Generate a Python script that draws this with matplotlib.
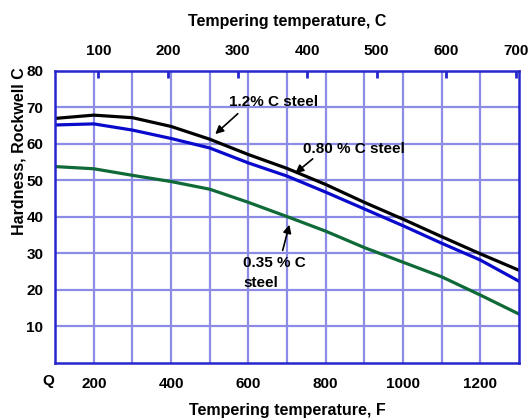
import matplotlib.pyplot as plt

plt.rcParams['font.family'] = ['Liberation Sans', 'DejaVu Sans']
plt.rcParams['font.weight'] = 'bold'

# temperatura (F) y dureza Rockwell C
temp_f = [100, 200, 300, 400, 500, 600, 700, 800, 900, 1000, 1100, 1200, 1300]
steel_120 = [67.0, 67.9, 67.2, 64.8, 61.3, 57.1, 53.3, 48.9, 44.0, 39.4, 34.6, 29.9, 25.4]
steel_080 = [65.2, 65.5, 63.8, 61.5, 58.9, 54.8, 51.2, 46.8, 42.2, 37.6, 32.8, 28.2, 22.4]
steel_035 = [53.8, 53.2, 51.4, 49.7, 47.6, 44.0, 40.1, 36.1, 31.6, 27.6, 23.6, 18.6, 13.4]

f_ticks = [200, 400, 600, 800, 1000, 1200]
c_ticks = [100, 200, 300, 400, 500, 600, 700]
y_ticks = [10, 20, 30, 40, 50, 60, 70, 80]

grid_col = '#8c8ce6'
spine_col = '#2626cc'

fig = plt.figure(figsize=(5.3, 4.2), dpi=100)
ax = fig.add_axes([0.104, 0.136, 0.875, 0.695])

ax.plot(temp_f, steel_120, color='black', lw=2.3)
ax.plot(temp_f, steel_080, color='#0a0acc', lw=2.3)
ax.plot(temp_f, steel_035, color='#0f6a38', lw=2.3)

ax.set_xlim(100, 1300)
ax.set_ylim(0, 80)

# rejilla
for x in range(200, 1300, 100):
    ax.axvline(x, color=grid_col, lw=1.6, zorder=0)
for y in range(10, 80, 10):
    ax.axhline(y, color=grid_col, lw=1.6, zorder=0)

for s in ax.spines.values():
    s.set_color(spine_col)
    s.set_linewidth(1.8)

ax.set_xticks(f_ticks)
ax.set_yticks(y_ticks)
ax.tick_params(length=0, labelsize=11, pad=8.5)
ax.tick_params(axis='x', pad=10)
ax.set_xlabel('Tempering temperature, F', fontsize=11.5, fontweight='bold', labelpad=9)
fig.text(0.035, 0.64, 'Hardness, Rockwell C', rotation=90, ha='center', va='center',
         fontsize=11.5, fontweight='bold')
fig.text(0.092, 0.093, 'Q', ha='center', va='center', fontsize=11, fontweight='bold')

# eje superior en Celsius
sec = ax.secondary_xaxis('top', functions=(lambda f: (f - 32) * 5 / 9,
                                           lambda c: c * 9 / 5 + 32))
sec.set_xticks(c_ticks)
sec.tick_params(direction='in', length=5, width=2, color=spine_col, labelsize=11, pad=9)
sec.spines['top'].set_visible(False)
sec.set_xlabel('Tempering temperature, C', fontsize=11.5, fontweight='bold', labelpad=13)

# anotaciones
arrow = dict(arrowstyle='-|>', color='black', lw=1.2, mutation_scale=12)
ax.text(550, 71.6, '1.2% C steel', fontsize=11, fontweight='bold', ha='left', va='center')
ax.annotate('', xy=(509, 62.2), xytext=(578, 68.8), arrowprops=arrow)
ax.text(741, 58.6, '0.80 % C steel', fontsize=11, fontweight='bold', ha='left', va='center')
ax.annotate('', xy=(716, 51.5), xytext=(772, 56.4), arrowprops=arrow)
ax.text(586, 24.6, '0.35 % C\nsteel', fontsize=11, fontweight='bold', ha='left', va='center',
        linespacing=1.5)
ax.annotate('', xy=(708, 38.6), xytext=(687, 30.1), arrowprops=arrow)

fig.savefig('out.png', dpi=100)
